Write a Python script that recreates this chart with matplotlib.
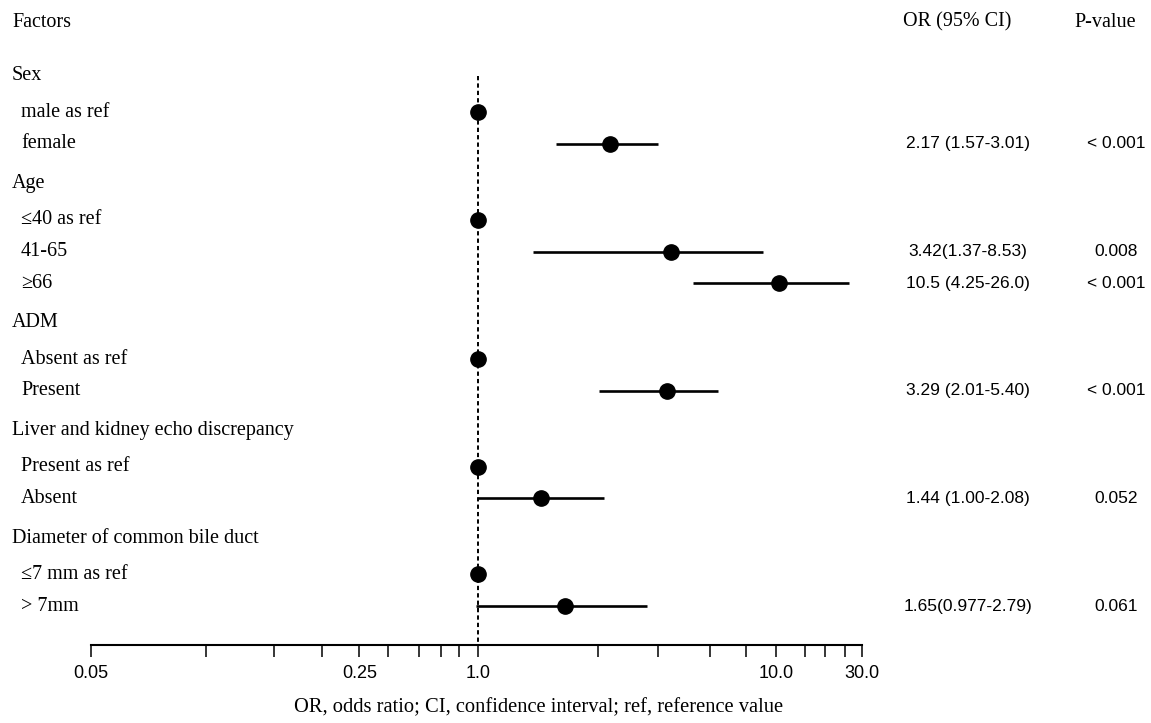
import numpy as np
import matplotlib

matplotlib.use("Agg")
import matplotlib.pyplot as plt  # noqa: E402
from matplotlib import transforms  # noqa: E402

# ---- data ----
group_names = ["Sex", "Age", "ADM", "Liver and kidney echo discrepancy",
               "Diameter of common bile duct"]
level_labels = ["male as ref", "female",
                "\u226440 as ref", "41-65", "\u226566",
                "Absent as ref", "Present",
                "Present as ref", "Absent",
                "\u22647 mm as ref", "> 7mm"]
level_group = [0, 0, 1, 1, 1, 2, 2, 3, 3, 4, 4]
odds_ratio = [1.0, 2.17, 1.0, 3.42, 10.5, 1.0, 3.29, 1.0, 1.44, 1.0, 1.65]
ci_lower = [np.nan, 1.57, np.nan, 1.37, 4.25, np.nan, 2.01, np.nan, 1.00, np.nan, 0.977]
ci_upper = [np.nan, 3.01, np.nan, 8.53, 26.0, np.nan, 5.40, np.nan, 2.08, np.nan, 2.79]
or_text = ["", "2.17 (1.57-3.01)", "", "3.42(1.37-8.53)", "10.5 (4.25-26.0)", "",
           "3.29 (2.01-5.40)", "", "1.44 (1.00-2.08)", "", "1.65(0.977-2.79)"]
p_text = ["", "< 0.001", "", "0.008", "< 0.001", "", "< 0.001", "", "0.052", "", "0.061"]

major_ticks = [0.05, 0.25, 1.0, 10.0, 30.0]
major_labels = ["0.05", "0.25", "1.0", "10.0", "30.0"]
minor_ticks = [0.1, 0.15, 0.2, 0.35, 0.5, 0.65, 0.8, 2, 3, 5, 7, 15, 20, 25]

# the original axis is not a clean log axis: piecewise log scale through these knots
knot_vals = [0.05, 0.25, 1.0, 2.0, 3.0, 5.0, 7.0, 10.0, 20.0, 30.0]
knot_pos = [0, 268.6, 387.3, 507.3, 567.3, 619.3, 655.3, 685.3, 734.3, 771.3]
log_knots = np.log10(knot_vals)


def fwd(x):
    x = np.clip(np.asarray(x, dtype=float), 1e-6, None)
    return np.interp(np.log10(x), log_knots, knot_pos)


def inv(p):
    return 10 ** np.interp(np.asarray(p, dtype=float), knot_pos, log_knots)


# ---- row layout (in row units) ----
y = 0.0
group_y = []
level_y = []
for g, name in enumerate(group_names):
    y += 1.7 if g == 0 else 1.25
    group_y.append(y)
    first = True
    for lg in level_group:
        if lg == g:
            y += 1.15 if first else 1.0
            first = False
            level_y.append(y)

W, H = 1151, 723
fig = plt.figure(figsize=(W / 100, H / 100), dpi=100)
ax = fig.add_axes([90.7 / W, 78 / H, 771.3 / W, 645 / H])
ax.set_xscale("function", functions=(fwd, inv))
ax.set_xlim(0.05, 30)
ax.set_ylim(19.68, -0.695)

serif = "Liberation Serif"
sans = "Liberation Sans"

# reference line at OR = 1
ax.vlines(1.0, group_y[0], 19.68, color="black", lw=1.4,
          linestyles=(0, (2.2, 1.6)), zorder=1)

for i in range(len(odds_ratio)):
    if not np.isnan(ci_lower[i]):
        ax.plot([ci_lower[i], ci_upper[i]], [level_y[i], level_y[i]],
                color="black", lw=1.9, solid_capstyle="butt", zorder=2)
    ax.plot(odds_ratio[i], level_y[i], "o", color="black", ms=11, zorder=3)

for s in ["left", "right", "top"]:
    ax.spines[s].set_visible(False)
ax.spines["bottom"].set_linewidth(1.5)
ax.set_yticks([])
ax.set_xticks(major_ticks)
ax.set_xticklabels(major_labels, fontfamily=sans, fontsize=13)
ax.set_xticks(minor_ticks, minor=True)
ax.tick_params(axis="x", which="both", direction="out", length=8.6, width=1.1, pad=6)
ax.xaxis.set_minor_formatter(matplotlib.ticker.NullFormatter())

tr = transforms.blended_transform_factory(fig.transFigure, ax.transData)

ax.text(12 / W, 0, "Factors", transform=tr, fontfamily=serif, fontsize=14.5,
        ha="left", va="center")
ax.text(957 / W, 0, "OR (95% CI)", transform=tr, fontfamily=serif, fontsize=14.5,
        ha="center", va="center")
ax.text(1105 / W, 0, "P-value", transform=tr, fontfamily=serif, fontsize=14.5,
        ha="center", va="center")

for name, gy in zip(group_names, group_y):
    ax.text(12 / W, gy, name, transform=tr, fontfamily=serif, fontsize=14.5,
            ha="left", va="center")

for i, lab in enumerate(level_labels):
    ax.text(21 / W, level_y[i], lab, transform=tr, fontfamily=serif, fontsize=14.5,
            ha="left", va="center")
    if or_text[i]:
        ax.text(968 / W, level_y[i], or_text[i], transform=tr, fontfamily=sans,
                fontsize=12.5, ha="center", va="center")
        ax.text(1116 / W, level_y[i], p_text[i], transform=tr, fontfamily=sans,
                fontsize=12.5, ha="center", va="center")

fig.text(539 / W, 1 - 708 / H, "OR, odds ratio; CI, confidence interval; ref, reference value",
         fontfamily=serif, fontsize=14.8, ha="center", va="center")

fig.savefig("out.png", dpi=100, facecolor="white")
